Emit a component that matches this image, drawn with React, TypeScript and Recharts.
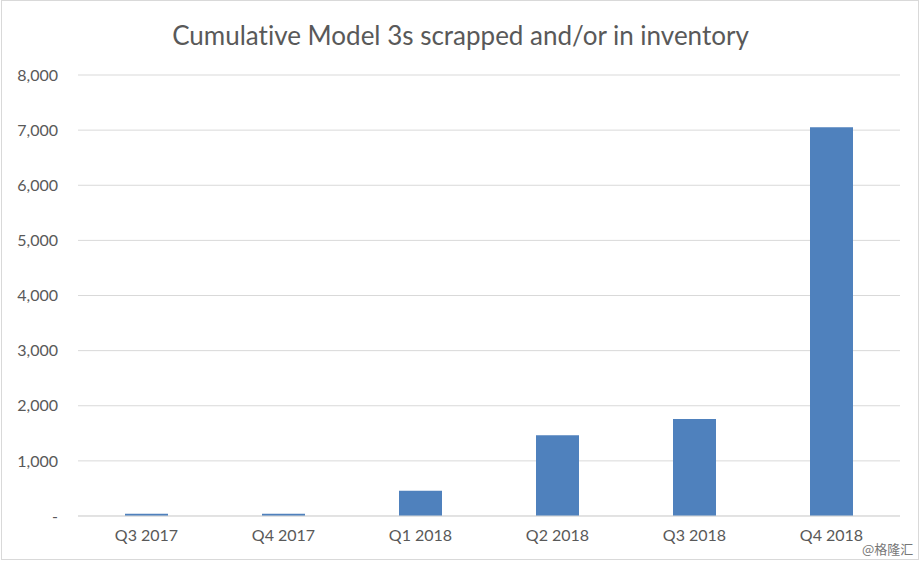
import React from 'react';
import { BarChart, Bar, XAxis, YAxis, CartesianGrid } from 'recharts';

const quarters = ['Q3 2017', 'Q4 2017', 'Q1 2018', 'Q2 2018', 'Q3 2018', 'Q4 2018'];
const scrapped = [40, 40, 460, 1465, 1760, 7050];
const yTicks = [0, 1000, 2000, 3000, 4000, 5000, 6000, 7000, 8000];

const GRAY = '#595959';
const GRID = '#d9d9d9';
const BAR = '#4f81bd';
const FONT = 'Lato, "Open Sans", sans-serif';

const data = quarters.map((q, i) => ({ name: q, value: scrapped[i] }));

const fmt = (v: number) => (v === 0 ? '-' : v.toLocaleString('en-US'));

export default function App() {
  return (
    <div
      style={{
        position: 'absolute',
        left: 0,
        top: 0,
        width: 921,
        height: 563,
        background: '#fff',
        fontFamily: FONT,
        fontVariantLigatures: 'none',
      }}
    >
      <div
        style={{
          position: 'absolute',
          left: 1,
          top: 0,
          width: 918,
          height: 560,
          border: `1px solid ${GRID}`,
          boxSizing: 'border-box',
        }}
      />
      <div
        style={{
          position: 'absolute',
          left: 0,
          top: 17,
          width: 921,
          textAlign: 'center',
          fontSize: 26,
          color: GRAY,
          lineHeight: '36px',
          fontVariantLigatures: 'none',
        }}
      >
        Cumulative Model 3s scrapped and/or in inventory
      </div>
      <BarChart
        width={921}
        height={563}
        data={data}
        margin={{ top: 75, right: 21, left: 20, bottom: 17 }}
        style={{ position: 'absolute', left: 0, top: 0 }}
      >
        <CartesianGrid vertical={false} stroke={GRID} />
        <XAxis
          dataKey="name"
          height={30}
          tickLine={false}
          axisLine={{ stroke: GRID }}
          tickMargin={8}
          tick={{ fill: GRAY, fontSize: 16, fontFamily: FONT }}
        />
        <YAxis
          width={58}
          domain={[0, 8000]}
          ticks={yTicks}
          tickFormatter={fmt}
          tickLine={false}
          axisLine={false}
          tickMargin={14}
          tick={{ fill: GRAY, fontSize: 16, fontFamily: FONT }}
        />
        <Bar dataKey="value" fill={BAR} barSize={43} isAnimationActive={false} />
      </BarChart>
      <div
        style={{
          position: 'absolute',
          left: 862,
          top: 539,
          fontSize: 13,
          color: '#777',
          fontFamily: '"Noto Sans CJK SC", sans-serif',
        }}
      >
        @格隆汇
      </div>
    </div>
  );
}
